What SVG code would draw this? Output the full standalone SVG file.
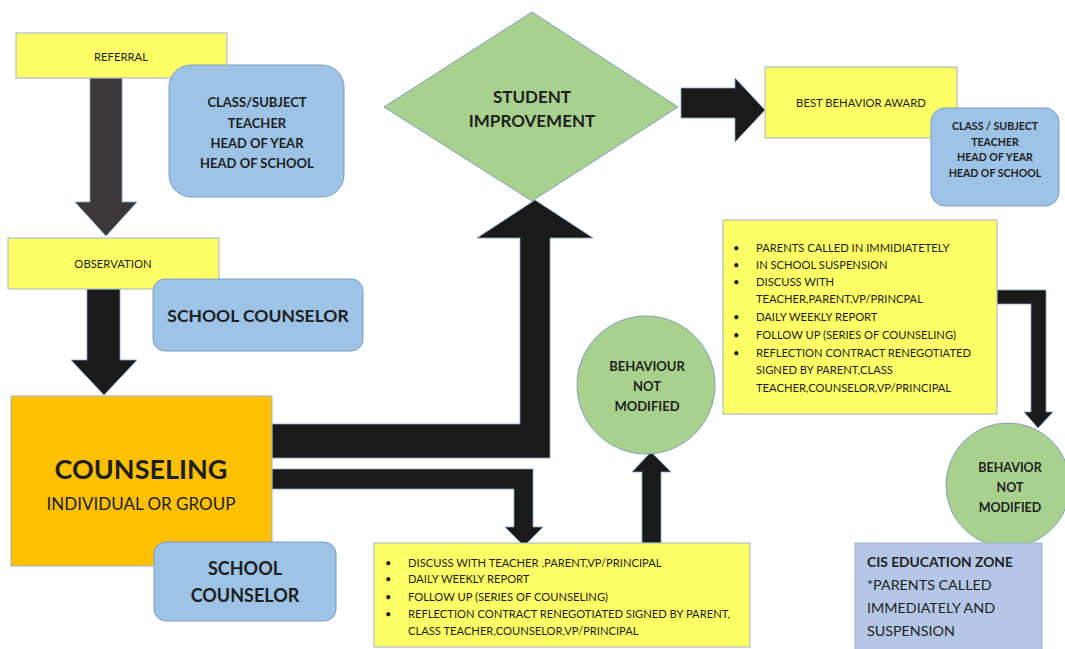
<svg xmlns="http://www.w3.org/2000/svg" width="1065" height="649" viewBox="0 0 1065 649">
  <style>
    .yellow { fill: #FFFF66; stroke: #9FB3C8; stroke-width: 1; }
    .blue { fill: #9DC3E6; stroke: #7F9DBF; stroke-width: 1; }
    .green { fill: #A9D18E; stroke: #7F9DBF; stroke-width: 1; }
    .orange { fill: #FFC000; stroke: #9FB3C8; stroke-width: 1; }
    .zone { fill: #B4C7E7; stroke: #9FB3C8; stroke-width: 1; }
    .arrow { fill: #1A1A1A; stroke: #8DA2BC; stroke-width: 0.8; }
    .arrow-grey { fill: #3A3838; stroke: #8DA2BC; stroke-width: 0.8; }
    text { font-family: Lato, "Liberation Sans", sans-serif; fill: #1E1E1E; }
    .small { font-size: 11.3px; text-anchor: middle; }
    .bold { font-weight: bold; text-anchor: middle; }
    .list { font-size: 11.2px; }
  </style>

  <!-- connectors -->
  <g id="connectors">
    <polygon class="arrow-grey" points="90,78 122,78 122,202 137,202 106,236 75,202 90,202"/>
    <polygon class="arrow" points="87,289 120,289 120,360 137,360 104,395 71,360 87,360"/>
    <polygon class="arrow" points="272,424 520,424 520,238 477,238 535,200 593,238 550,238 550,458 272,458"/>
    <polygon class="arrow" points="272,469 533,469 533,527 543,527 524,546 505,527 514,527 514,489 272,489"/>
    <polygon class="arrow" points="642,543 642,472 632,472 651,452 671,472 661,472 661,543"/>
    <polygon class="arrow" points="681,88 735,88 735,78 765,110 735,142 735,118 681,118"/>
    <polygon class="arrow" points="997,290 1046,290 1046,412 1053,412 1038,428 1024,412 1031,412 1031,304 997,304"/>
  </g>

  <g id="referral">
    <rect class="yellow" x="16" y="33" width="211" height="45"/>
    <text class="small" x="121" y="61">REFERRAL</text>
  </g>

  <g id="referral-staff">
    <rect class="blue" x="169" y="65" width="175" height="132" rx="22"/>
    <text class="bold" font-size="13" x="257" y="107">CLASS/SUBJECT</text>
    <text class="bold" font-size="13" x="257" y="127.5">TEACHER</text>
    <text class="bold" font-size="13" x="257" y="147.5">HEAD OF YEAR</text>
    <text class="bold" font-size="13" x="257" y="168">HEAD OF SCHOOL</text>
  </g>

  <g id="observation">
    <rect class="yellow" x="8" y="238" width="211" height="51"/>
    <text class="small" x="113" y="268">OBSERVATION</text>
  </g>

  <g id="observation-staff">
    <rect class="blue" x="153" y="279" width="210" height="72" rx="12"/>
    <text class="bold" font-size="17.5" x="258" y="322">SCHOOL COUNSELOR</text>
  </g>

  <g id="counseling">
    <rect class="orange" x="11" y="396" width="261" height="170"/>
    <text class="bold" font-size="27" x="141" y="479">COUNSELING</text>
    <text font-size="17" x="141" y="510" text-anchor="middle">INDIVIDUAL OR GROUP</text>
  </g>

  <g id="counseling-staff">
    <rect class="blue" x="154" y="542" width="182" height="79" rx="12"/>
    <text class="bold" font-size="18" x="245" y="575">SCHOOL</text>
    <text class="bold" font-size="18" x="245" y="602">COUNSELOR</text>
  </g>

  <g id="student-improvement">
    <polygon class="green" points="532,12 678,107 532,201 384,107"/>
    <text class="bold" font-size="17" x="532" y="103">STUDENT</text>
    <text class="bold" font-size="17" x="532" y="127">IMPROVEMENT</text>
  </g>

  <g id="best-behavior-award">
    <rect class="yellow" x="765" y="67" width="192" height="71"/>
    <text class="small" x="861" y="107">BEST BEHAVIOR AWARD</text>
  </g>

  <g id="award-staff">
    <rect class="blue" x="931" y="108" width="128" height="98" rx="14"/>
    <text class="bold" font-size="10.6" x="995" y="130">CLASS / SUBJECT</text>
    <text class="bold" font-size="10.6" x="995" y="146">TEACHER</text>
    <text class="bold" font-size="10.6" x="995" y="161">HEAD OF YEAR</text>
    <text class="bold" font-size="10.6" x="995" y="177">HEAD OF SCHOOL</text>
  </g>

  <g id="first-intervention">
    <rect class="yellow" x="374" y="543" width="376" height="104"/>
    <g class="list">
      <text x="385" y="567">•</text><text x="408" y="567">DISCUSS WITH TEACHER ,PARENT,VP/PRINCIPAL</text>
      <text x="385" y="583">•</text><text x="408" y="583">DAILY WEEKLY REPORT</text>
      <text x="385" y="601">•</text><text x="408" y="601">FOLLOW UP (SERIES OF COUNSELING)</text>
      <text x="385" y="618">•</text><text x="408" y="618">REFLECTION CONTRACT RENEGOTIATED SIGNED BY PARENT,</text>
      <text x="408" y="635">CLASS TEACHER,COUNSELOR,VP/PRINCIPAL</text>
    </g>
  </g>

  <g id="behaviour-not-modified">
    <circle class="green" cx="646" cy="385" r="69"/>
    <text class="bold" font-size="13" x="647" y="371">BEHAVIOUR</text>
    <text class="bold" font-size="13" x="647" y="391">NOT</text>
    <text class="bold" font-size="13" x="647" y="411">MODIFIED</text>
  </g>

  <g id="second-intervention">
    <rect class="yellow" x="723" y="220" width="274" height="194"/>
    <g class="list">
      <text x="733" y="252">•</text><text x="756" y="252">PARENTS CALLED IN IMMIDIATETELY</text>
      <text x="733" y="269">•</text><text x="756" y="269">IN SCHOOL SUSPENSION</text>
      <text x="733" y="286">•</text><text x="756" y="286">DISCUSS WITH</text>
      <text x="756" y="303">TEACHER,PARENT,VP/PRINCPAL</text>
      <text x="733" y="321">•</text><text x="756" y="321">DAILY WEEKLY REPORT</text>
      <text x="733" y="339">•</text><text x="756" y="339">FOLLOW UP (SERIES OF COUNSELING)</text>
      <text x="733" y="357">•</text><text x="756" y="357">REFLECTION CONTRACT RENEGOTIATED</text>
      <text x="756" y="374">SIGNED BY PARENT,CLASS</text>
      <text x="756" y="392">TEACHER,COUNSELOR,VP/PRINCIPAL</text>
    </g>
  </g>

  <g id="behavior-not-modified">
    <circle class="green" cx="1008" cy="485" r="62"/>
    <text class="bold" font-size="12.5" x="1010" y="472">BEHAVIOR</text>
    <text class="bold" font-size="12.5" x="1010" y="492">NOT</text>
    <text class="bold" font-size="12.5" x="1010" y="512">MODIFIED</text>
  </g>

  <g id="education-zone">
    <rect class="zone" x="855" y="543" width="187" height="110"/>
    <text x="867" y="567" font-size="13.8" font-weight="bold">CIS EDUCATION ZONE</text>
    <text x="867" y="590" font-size="14.3">*PARENTS CALLED</text>
    <text x="867" y="613" font-size="14.3">IMMEDIATELY AND</text>
    <text x="867" y="636" font-size="14.3">SUSPENSION</text>
  </g>
</svg>
